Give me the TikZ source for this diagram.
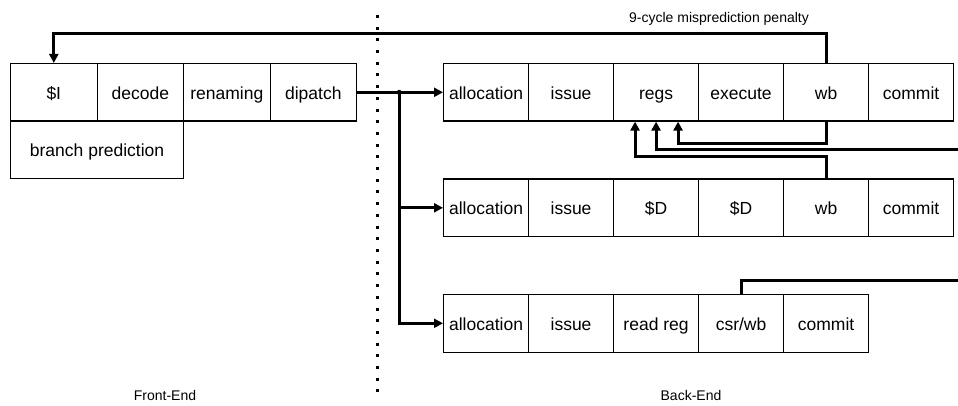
\documentclass[tikz,border=0pt]{standalone}
\usepackage{fontspec}
\setmainfont{Liberation Sans}
\usetikzlibrary{arrows.meta,calc}

\begin{document}
\begin{tikzpicture}[x=1pt,y=-1pt,>={Triangle[length=9pt,width=9pt]},
    stage/.style={draw,line width=1.1pt,anchor=north west,minimum width=85pt,minimum height=57.5pt,inner sep=0pt,text height=14pt,text depth=0.5pt,font=\fontsize{17.5}{20}\selectfont},
    wire/.style={line width=3pt},
    divider/.style={line width=3pt,dash pattern=on 3pt off 8.7pt},
    caption/.style={font=\fontsize{14}{16}\selectfont}]
    \useasboundingbox (0,0) rectangle (958,406);

    % front-end
    \foreach \name/\text [count=\i from 0] in {icache/\$I, decode/decode, rename/renaming, dispatch/dipatch}
        \node[stage,minimum width=86.5pt] (\name) at ({10+86.5*\i},63) {\text};
    \node[stage,minimum width=173pt] (bpred) at (10,120.5) {branch prediction};

    % back-end pipes
    \foreach \name/\text [count=\i from 0] in {alloc1/allocation, issue1/issue, regs/regs, exec/execute, wb1/wb, commit1/commit}
        \node[stage] (\name) at ({443+85*\i},63) {\text};
    \foreach \name/\text [count=\i from 0] in {alloc2/allocation, issue2/issue, dcache1/\$D, dcache2/\$D, wb2/wb, commit2/commit}
        \node[stage] (\name) at ({443+85*\i},178.5) {\text};
    \foreach \name/\text [count=\i from 0] in {alloc3/allocation, issue3/issue, readreg/read reg, csr/{csr/wb}, commit3/commit}
        \node[stage] (\name) at ({443+85*\i},294) {\text};

    \draw[divider] (377,15) -- (377,400);

    % dispatch
    \coordinate (split) at ($(dispatch.east)!0.49!(alloc1.west)$);
    \draw[wire,->] (dispatch.east) -- (alloc1.west);
    \draw[wire,->] (split) |- (alloc2.west);
    \draw[wire,->] (split) |- (alloc3.west);
    \fill (split) circle (2.5pt);

    % feedback
    \draw[wire,->] (wb1.north) -- ++(0,-29) -| (icache.north);
    \node[caption] (penalty) at (719,19) {9-cycle misprediction penalty};
    \coordinate (bypassA) at (958,150);
    \coordinate (bypassB) at (958,280);
    \draw[wire,->] (wb1.south) -- ++(0,22) -| ([xshift=22pt]regs.south);
    \draw[wire,->] (bypassA) -| (regs.south);
    \draw[wire,->] (wb2.north) -- ++(0,-21.5) -| ([xshift=-21pt]regs.south);
    \draw[wire] (csr.north) |- (bypassB);

    \node[caption] (front) at (165,395) {Front-End};
    \node[caption] (back) at (691,395) {Back-End};
\end{tikzpicture}
\end{document}
